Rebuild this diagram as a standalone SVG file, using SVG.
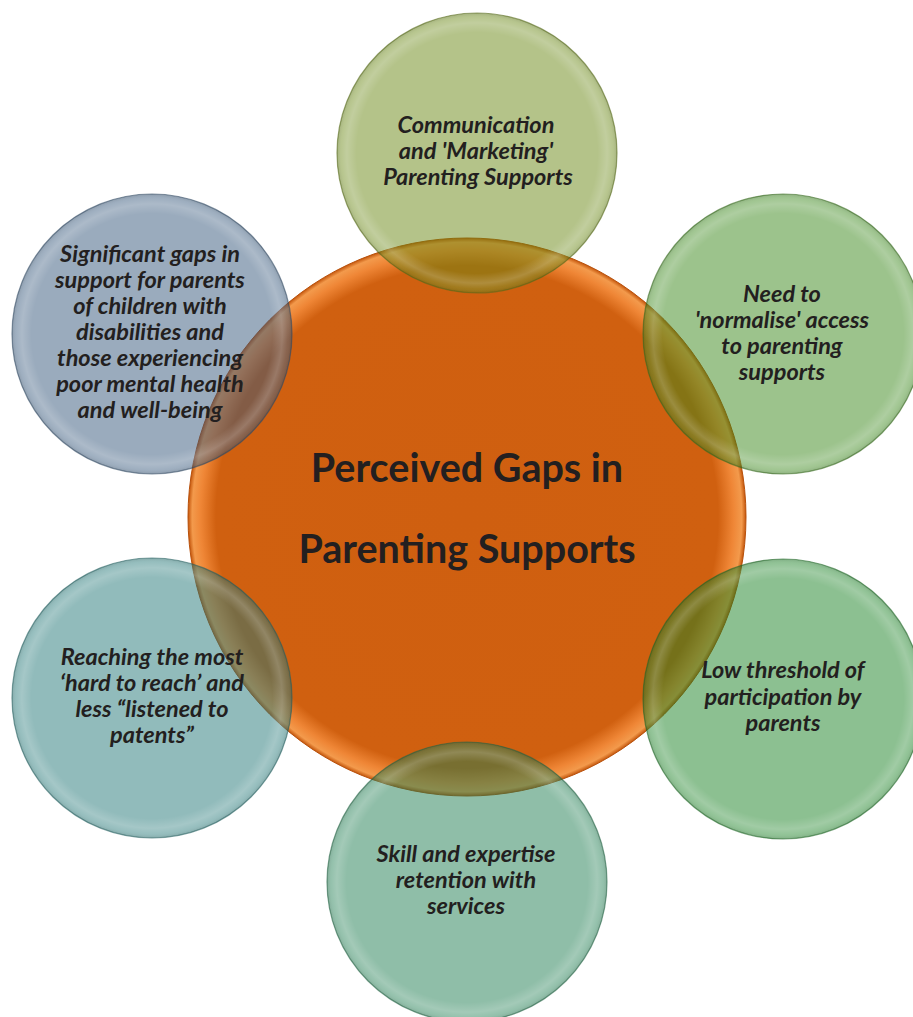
<svg xmlns="http://www.w3.org/2000/svg" width="913" height="1017" viewBox="0 0 913 1017">
<defs>
<radialGradient id="gCenter" cx="0.5" cy="0.5" r="0.5">
<stop offset="0" stop-color="#cf5f10"/>
<stop offset="0.9" stop-color="#d06010"/>
<stop offset="0.955" stop-color="#ef8636"/>
<stop offset="0.985" stop-color="#f39a4c"/>
<stop offset="1" stop-color="#c4560c"/>
</radialGradient>
<radialGradient id="gBevel" cx="0.5" cy="0.5" r="0.5">
<stop offset="0" stop-color="#ffffff" stop-opacity="0"/>
<stop offset="0.86" stop-color="#ffffff" stop-opacity="0"/>
<stop offset="0.93" stop-color="#ffffff" stop-opacity="0.18"/>
<stop offset="0.97" stop-color="#ffffff" stop-opacity="0.05"/>
<stop offset="1" stop-color="#000000" stop-opacity="0.1"/>
</radialGradient>
</defs>
<style>
.sat{fill-opacity:0.5;stroke-opacity:0.6;stroke-width:1.2}
.bev{fill:url(#gBevel)}
.st{font-family:Lato,"Open Sans","Liberation Sans",sans-serif;font-weight:bold;font-style:italic;font-size:23.5px;fill:#231f20;text-anchor:middle}
.ct{font-family:Lato,"Open Sans","Liberation Sans",sans-serif;font-weight:bold;font-size:39.5px;fill:#231f20;text-anchor:middle}
</style>
<rect width="913" height="1017" fill="#ffffff"/>
<g id="center">
<circle cx="467" cy="517" r="279" fill="url(#gCenter)" stroke="#b8500a" stroke-width="1"/>
<text class="ct" x="467" y="482">Perceived Gaps in</text>
<text class="ct" x="467" y="563">Parenting Supports</text>
</g>
<g id="n-communication">
<circle class="sat" cx="477" cy="153" r="140" fill="#698713" stroke="#5a6e1c"/>
<circle class="bev" cx="477" cy="153" r="140"/>
<text class="st" x="476" y="133">Communication</text>
<text class="st" x="476" y="159">and 'Marketing'</text>
<text class="st" x="478" y="185">Parenting Supports</text>
</g>
<g id="n-normalise">
<circle class="sat" cx="783" cy="334" r="140" fill="#398719" stroke="#3a6e22"/>
<circle class="bev" cx="783" cy="334" r="140"/>
<text class="st" x="782" y="302">Need to</text>
<text class="st" x="782" y="328">'normalise' access</text>
<text class="st" x="782" y="354">to parenting</text>
<text class="st" x="782" y="380">supports</text>
</g>
<g id="n-threshold">
<circle class="sat" cx="783" cy="699" r="140" fill="#198123" stroke="#236a2a"/>
<circle class="bev" cx="783" cy="699" r="140"/>
<text class="st" x="783" y="678">Low threshold of</text>
<text class="st" x="783" y="705">participation by</text>
<text class="st" x="783" y="731">parents</text>
</g>
<g id="n-skill">
<circle class="sat" cx="467" cy="882" r="140" fill="#1f7d51" stroke="#266848"/>
<circle class="bev" cx="467" cy="882" r="140"/>
<text class="st" x="466" y="862">Skill and expertise</text>
<text class="st" x="466" y="888">retention with</text>
<text class="st" x="466" y="914">services</text>
</g>
<g id="n-reaching">
<circle class="sat" cx="152" cy="698" r="140" fill="#237777" stroke="#286464"/>
<circle class="bev" cx="152" cy="698" r="140"/>
<text class="st" x="152" y="665">Reaching the most</text>
<text class="st" x="152" y="691">‘hard to reach’ and</text>
<text class="st" x="152" y="717">less “listened to</text>
<text class="st" x="152" y="743">patents”</text>
</g>
<g id="n-disabilities">
<circle class="sat" cx="152" cy="334" r="140" fill="#35577b" stroke="#364e68"/>
<circle class="bev" cx="152" cy="334" r="140"/>
<text class="st" x="150" y="262">Significant gaps in</text>
<text class="st" x="150" y="288">support for parents</text>
<text class="st" x="150" y="314">of children with</text>
<text class="st" x="150" y="340">disabilities and</text>
<text class="st" x="150" y="366">those experiencing</text>
<text class="st" x="150" y="392">poor mental health</text>
<text class="st" x="150" y="418">and well-being</text>
</g>
</svg>
